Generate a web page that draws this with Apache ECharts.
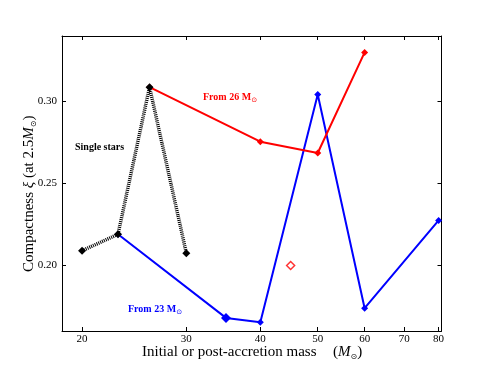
<!DOCTYPE html>
<html><head><meta charset="utf-8">
<script src="https://cdn.jsdelivr.net/npm/echarts@6/dist/echarts.min.js"></script>
<style>html,body{margin:0;padding:0;background:#fff}#c{width:491px;height:368px}</style>
</head><body><div id="c"></div>
<script>
// Data (mass in Msun, compactness xi_2.5)
const xTicks = [20, 30, 40, 50, 60, 70, 80];
const yTicks = [0.20, 0.25, 0.30];
const singleMass = [20, 23, 26, 30];
const singleXi = [0.209, 0.219, 0.3088, 0.2075];
const from26Mass = [26, 40, 50, 60];
const from26Xi = [0.3088, 0.2755, 0.2686, 0.330];
const from23Mass = [23, 35, 40, 50, 60, 80];
const from23Xi = [0.219, 0.168, 0.1653, 0.3043, 0.1739, 0.2275];
const openMass = [45];
const openXi = [0.200];

const L = Math.log;
const pts = (xs, ys) => xs.map((x, i) => [L(x), ys[i]]);
const FONT = 'Liberation Serif';
const chart = echarts.init(document.getElementById('c'));
const axX = (pos, showLabel) => ({
  type: 'value', position: pos, min: L(18.5), max: L(80.9),
  axisLine: {onZero: false, lineStyle: {color: '#000', width: 1}},
  splitLine: {show: false},
  axisTick: {show: true, inside: true, length: 4, customValues: xTicks.map(L), lineStyle: {color: '#000'}},
  axisLabel: {show: showLabel, customValues: xTicks.map(L), formatter: v => String(Math.round(Math.exp(v))),
    fontFamily: FONT, fontSize: 11, color: '#000', margin: 3}
});
const axY = (pos, showLabel) => ({
  type: 'value', position: pos, min: 0.16, max: 0.34,
  axisLine: {onZero: false, lineStyle: {color: '#000', width: 1}},
  splitLine: {show: false},
  axisTick: {show: true, inside: true, length: 4, customValues: yTicks, lineStyle: {color: '#000'}},
  axisLabel: {show: showLabel, customValues: yTicks, formatter: v => v.toFixed(2),
    fontFamily: FONT, fontSize: 11, color: '#000', margin: 5}
});
const sub = {fontFamily: 'DejaVu Sans', fontSize: 7, verticalAlign: 'bottom', padding: [6, 0, 0, 0]};
chart.setOption({
  animation: false,
  grid: {left: 62, right: 49.5, top: 36, bottom: 37},
  xAxis: [axX('bottom', true), axX('top', false)],
  yAxis: [axY('left', true), axY('right', false)],
  series: [
    {type: 'line', data: pts(from23Mass, from23Xi), z: 2, color: '#0000ff',
      lineStyle: {width: 2, color: '#0000ff'}, symbol: 'diamond',
      symbolSize: (v, p) => p.dataIndex === 1 ? 10 : 7,
      itemStyle: {color: '#0000ff'}},
    {type: 'line', data: pts(from26Mass, from26Xi), z: 3, color: '#ff0000',
      lineStyle: {width: 2, color: '#ff0000'}, symbol: 'diamond', symbolSize: 7,
      itemStyle: {color: '#ff0000'}},
    {type: 'line', data: pts(singleMass, singleXi), z: 4, color: '#000',
      lineStyle: {width: 3.5, color: '#000', type: [1, 1]}, symbol: 'diamond', symbolSize: 8,
      itemStyle: {color: '#000'}},
    {type: 'scatter', data: pts(openMass, openXi), z: 5, symbol: 'diamond', symbolSize: 8,
      itemStyle: {color: '#fff', borderColor: '#ff0000', borderWidth: 1.5}}
  ],
  graphic: [
    {type: 'text', left: 75, top: 142, style: {text: 'Single stars', font: 'bold 10px "Liberation Serif"', fill: '#000'}},
    {type: 'text', left: 203, top: 92, style: {text: 'From 26 M{s|⊙}', fill: '#ff0000',
      font: 'bold 10px "Liberation Serif"', rich: {s: Object.assign({fill: '#ff0000'}, sub)}}},
    {type: 'text', left: 128, top: 304, style: {text: 'From 23 M{s|⊙}', fill: '#0000ff',
      font: 'bold 10px "Liberation Serif"', rich: {s: Object.assign({fill: '#0000ff'}, sub)}}},
    {type: 'text', left: 142, top: 345, style: {text: 'Initial or post-accretion mass', font: '15px "Liberation Serif"', fill: '#000'}},
    {type: 'text', left: 333, top: 345, style: {text: '({i|M}{s|⊙})', font: '15px "Liberation Serif"', fill: '#000',
      rich: {i: {fontFamily: FONT, fontStyle: 'italic', fontSize: 15}, s: {fill: '#000', fontSize: 8, padding: [9,0,0,0], fontFamily: 'DejaVu Sans', verticalAlign: 'bottom'}}}},
    {type: 'text', x: 21, y: 272, rotation: Math.PI / 2, style: {text: 'Compactness {i|ξ} (at 2.5{i|M}{s|⊙})',
      font: '15px "Liberation Serif"', fill: '#000',
      rich: {i: {fontFamily: FONT, fontStyle: 'italic', fontSize: 15}, s: {fontFamily: 'DejaVu Sans', fontSize: 8, verticalAlign: 'bottom', padding: [9,0,0,0]}}}}
  ]
});
</script></body></html>
